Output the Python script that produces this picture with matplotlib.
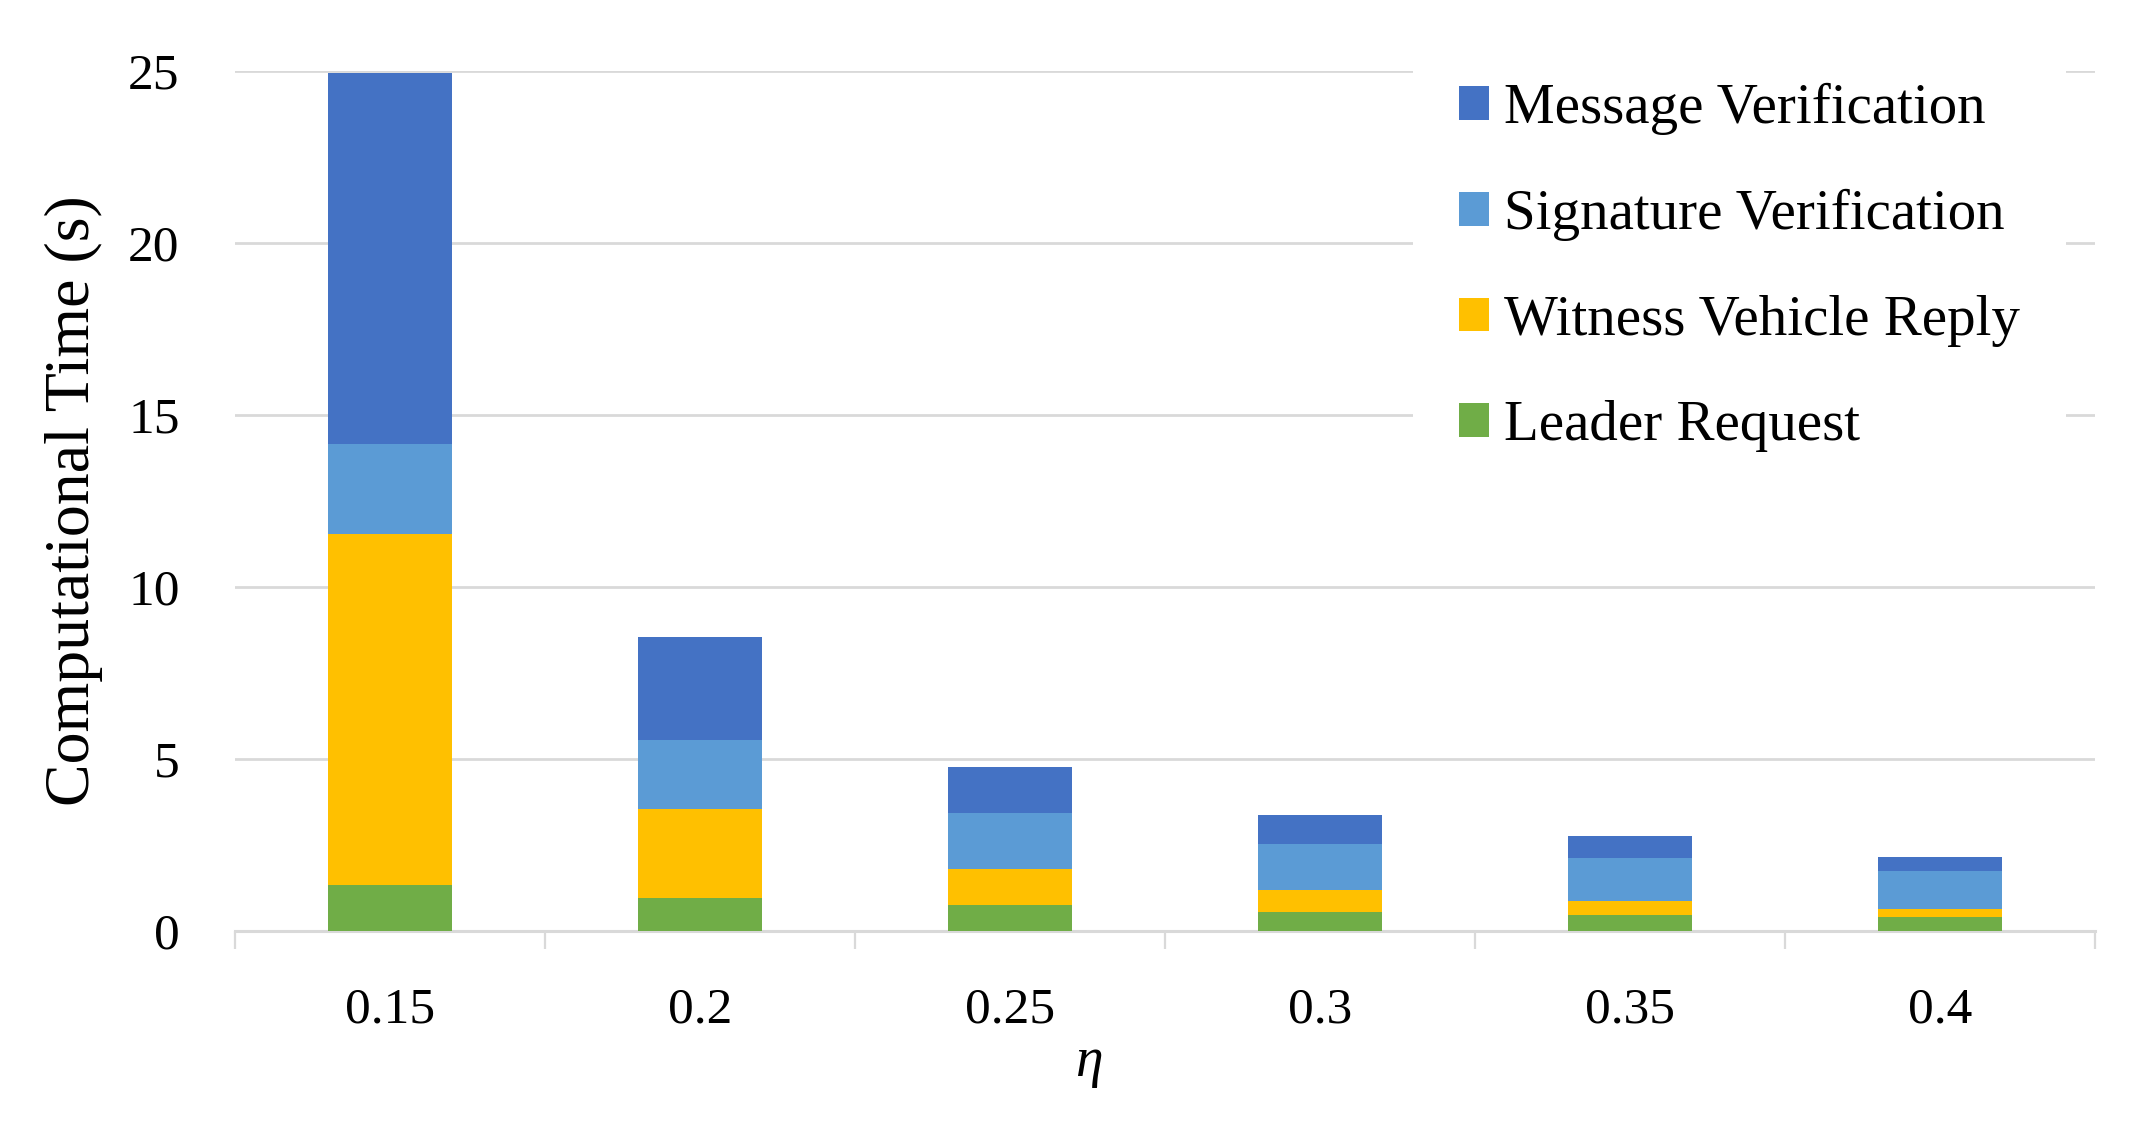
import numpy as np
import matplotlib
matplotlib.use("Agg")
import matplotlib.pyplot as plt

plt.rcParams['font.family'] = ['Liberation Serif', 'DejaVu Serif']

# values (seconds)
eta = ['0.15', '0.2', '0.25', '0.3', '0.35', '0.4']
leader_request = [1.35, 0.95, 0.75, 0.56, 0.48, 0.40]
witness_reply = [10.2, 2.6, 1.05, 0.63, 0.40, 0.24]
signature_verif = [2.6, 2.0, 1.62, 1.35, 1.23, 1.11]
message_verif = [10.8, 3.0, 1.35, 0.84, 0.64, 0.40]

series = [
    ("Leader Request", leader_request, "#70AD47"),
    ("Witness Vehicle Reply", witness_reply, "#FFC000"),
    ("Signature Verification", signature_verif, "#5B9BD5"),
    ("Message Verification", message_verif, "#4472C4"),
]

fig = plt.figure(figsize=(21.43, 11.22), dpi=100)
ax = fig.add_axes([0.1097, 0.1702, 0.8679, 0.7665])

x = np.arange(len(eta))
bottom = np.zeros(len(eta))
handles = {}
for name, vals, col in series:
    b = ax.bar(x, vals, 0.4, bottom=bottom, color=col, label=name, zorder=3)
    handles[name] = b
    bottom += np.array(vals)

ax.set_ylim(0, 25)
ax.set_xlim(-0.5, len(eta) - 0.5)
ax.set_yticks([0, 5, 10, 15, 20, 25])
ax.yaxis.grid(True, color='#d9d9d9', linewidth=2.0, zorder=0)
ax.set_axisbelow(True)

for s in ['top', 'right', 'left']:
    ax.spines[s].set_visible(False)
ax.spines['bottom'].set_color('#d9d9d9')
ax.spines['bottom'].set_linewidth(2.2)

ax.set_xticks(x)
ax.set_xticklabels(eta)
ax.set_xticks(np.arange(-0.5, len(eta), 1.0), minor=True)
ax.tick_params(axis='x', which='major', length=0, pad=40, labelsize=37)
ax.tick_params(axis='x', which='minor', length=13, width=1.6, color='#d9d9d9')
ax.tick_params(axis='y', length=0, pad=40, labelsize=37)

ax.set_ylabel("Computational Time (s)", fontsize=46)
ax.yaxis.set_label_coords(-0.071, 0.5)
ax.set_xlabel("η", fontsize=40, style='italic')
ax.xaxis.set_label_coords(0.459, -0.122)

order = ["Message Verification", "Signature Verification",
         "Witness Vehicle Reply", "Leader Request"]
leg = ax.legend([handles[n] for n in order], order, loc='upper left',
                bbox_to_anchor=(0.618, 1.072), fontsize=41, frameon=True,
                facecolor='white', edgecolor='none', framealpha=1,
                handlelength=0.53, handleheight=0.53, handletextpad=0.27,
                labelspacing=0.94, borderpad=0.8)
leg.set_zorder(5)

fig.savefig("out.png", dpi=100)
